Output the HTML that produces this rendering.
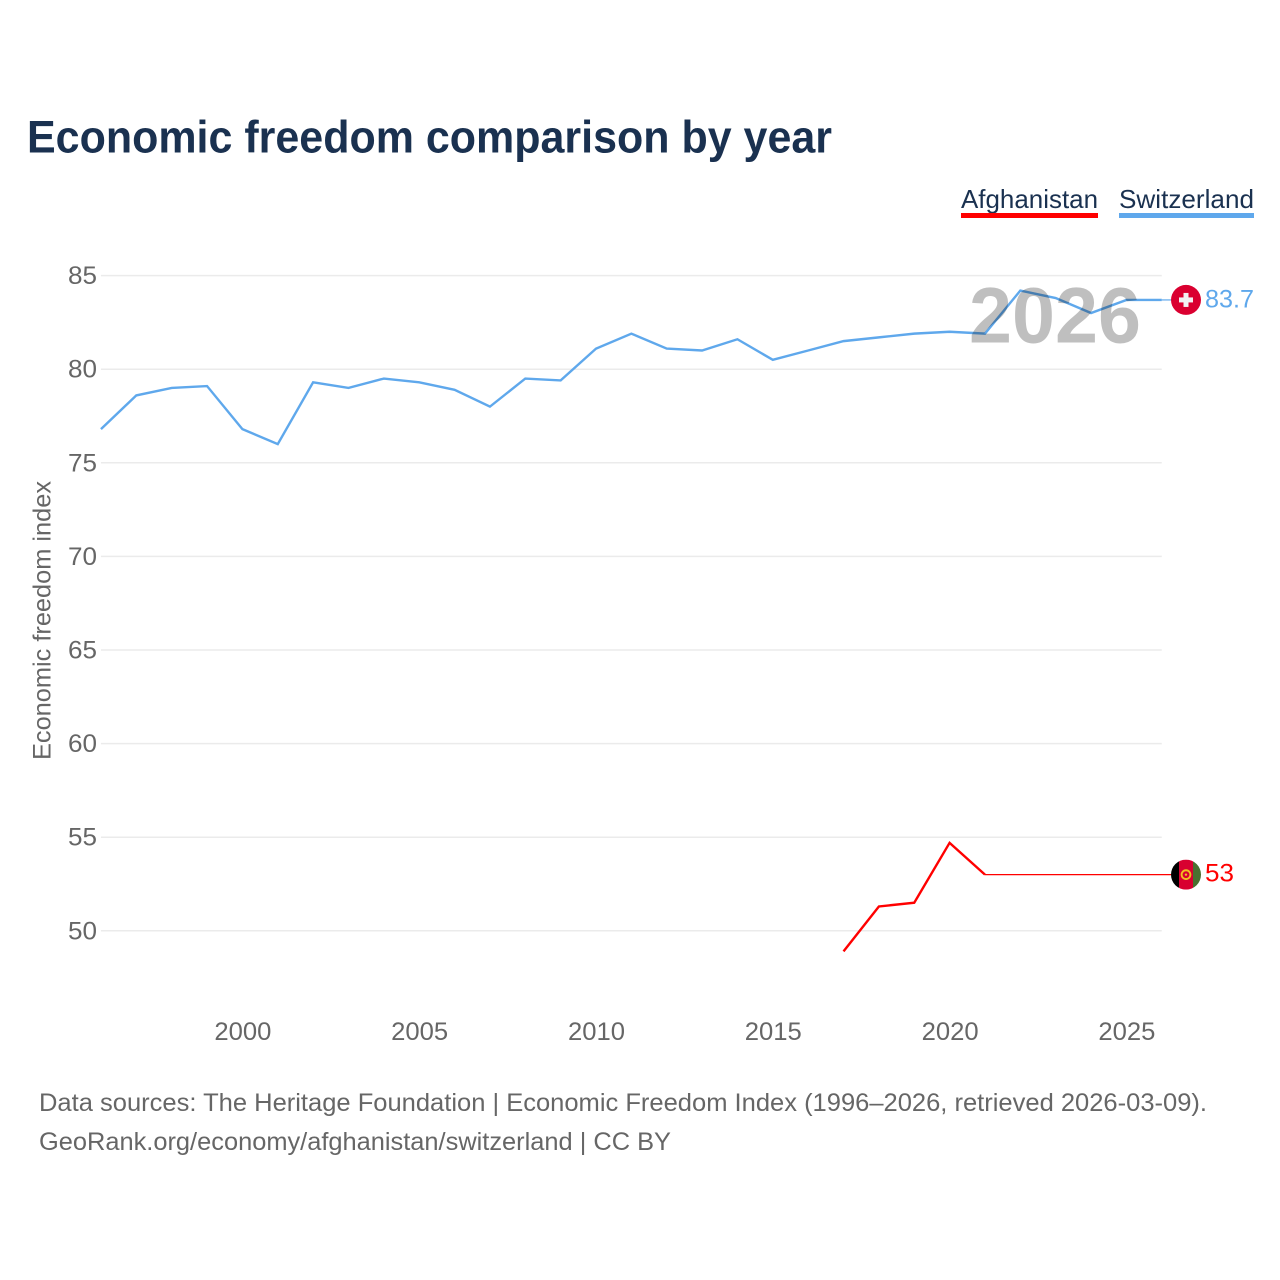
<!DOCTYPE html>
<html lang="en">
<head>
<meta charset="utf-8">
<title>Economic freedom comparison by year</title>
<style>
html,body{margin:0;padding:0;background:#fff;width:1280px;height:1280px;overflow:hidden}
svg{display:block;font-family:"Liberation Sans",sans-serif}
</style>
</head>
<body>
<svg id="chart" width="1280" height="1280" viewBox="0 0 1280 1280" xmlns="http://www.w3.org/2000/svg">
  <defs>
    <clipPath id="flag-clip-af"><circle cx="0" cy="0" r="15"/></clipPath>
  </defs>
  <rect width="1280" height="1280" fill="#fff"/>
  <text x="27" y="152.5" font-size="45" font-weight="700" fill="#1a3150" textLength="805" lengthAdjust="spacingAndGlyphs">Economic freedom comparison by year</text>

  <g>
    <text x="961" y="208" font-size="26" fill="#1a3150" textLength="137" lengthAdjust="spacingAndGlyphs">Afghanistan</text>
    <rect x="961" y="213" width="137" height="5" fill="#ff0000"/>
  </g>
  <g>
    <text x="1119" y="208" font-size="26" fill="#1a3150" textLength="135" lengthAdjust="spacingAndGlyphs">Switzerland</text>
    <rect x="1119" y="213" width="135" height="5" fill="#5fa8ec"/>
  </g>

  <g id="grid"></g>
  <g id="y-ticks"></g>
  <g id="x-ticks"></g>
  <text transform="translate(50.5 620.5) rotate(-90)" text-anchor="middle" font-size="25" fill="#666" textLength="279" lengthAdjust="spacingAndGlyphs">Economic freedom index</text>

  <g id="series"></g>

  <text x="969" y="342.5" font-size="79" font-weight="700" fill="#000" fill-opacity="0.25" textLength="172" lengthAdjust="spacingAndGlyphs">2026</text>

  <g id="markers"></g>

  <text x="39" y="1111" font-size="25" fill="#666" textLength="1168" lengthAdjust="spacingAndGlyphs">Data sources: The Heritage Foundation | Economic Freedom Index (1996–2026, retrieved 2026-03-09).</text>
  <text x="39" y="1150" font-size="25" fill="#666" textLength="632" lengthAdjust="spacingAndGlyphs">GeoRank.org/economy/afghanistan/switzerland | CC BY</text>
</svg>
<script>
const yTickValues = [50, 55, 60, 65, 70, 75, 80, 85];
const xTickYears = [2000, 2005, 2010, 2015, 2020, 2025];
const switzerlandYears = [1996, 1997, 1998, 1999, 2000, 2001, 2002, 2003, 2004, 2005, 2006, 2007, 2008, 2009, 2010, 2011, 2012, 2013, 2014, 2015, 2016, 2017, 2018, 2019, 2020, 2021, 2022, 2023, 2024, 2025, 2026];
const switzerlandValues = [76.8, 78.6, 79.0, 79.1, 76.8, 76.0, 79.3, 79.0, 79.5, 79.3, 78.9, 78.0, 79.5, 79.4, 81.1, 81.9, 81.1, 81.0, 81.6, 80.5, 81.0, 81.5, 81.7, 81.9, 82.0, 81.9, 84.2, 83.8, 83.0, 83.7, 83.7];
const afghanistanYears = [2017, 2018, 2019, 2020, 2021];
const afghanistanValues = [48.9, 51.3, 51.5, 54.7, 53.0];

const NS = 'http://www.w3.org/2000/svg';
const xScale = year => 242.4 + (year - 2000) * 35.36;
const yScale = value => 930.8 - (value - 50) * 18.72;
const make = (parent, tag, attrs, text) => {
  const el = document.createElementNS(NS, tag);
  Object.keys(attrs).forEach(k => el.setAttribute(k, attrs[k]));
  if (text !== undefined) el.textContent = text;
  parent.appendChild(el);
  return el;
};
const gridG = document.getElementById('grid');
const yTicksG = document.getElementById('y-ticks');
const xTicksG = document.getElementById('x-ticks');
const seriesG = document.getElementById('series');
const markersG = document.getElementById('markers');

yTickValues.forEach(v => {
  const line = make(gridG, 'line', {x1: xScale(1996), x2: xScale(2026), y1: yScale(v), y2: yScale(v), stroke: '#ebebeb', 'stroke-width': 1.5});
  
  
  const label = make(yTicksG, 'text', {x: 97, y: yScale(v) + 8.5, 'text-anchor': 'end', 'font-size': 25, fill: '#666', textLength: 29, lengthAdjust: 'spacingAndGlyphs'}, String(v));
  
  
});

xTickYears.forEach(y => {
  const label = make(xTicksG, 'text', {x: xScale(y) + 0.5, y: 1040, 'text-anchor': 'middle', 'font-size': 25, fill: '#666', textLength: 57, lengthAdjust: 'spacingAndGlyphs'}, String(y));
  
  
});

const linePoints = (years, values) => years.map((y, i) => xScale(y).toFixed(2) + ',' + yScale(values[i]).toFixed(2)).join(' ');

const swissLine = make(seriesG, 'polyline', {points: linePoints(switzerlandYears, switzerlandValues), fill: 'none', stroke: '#5fa8ec', 'stroke-width': 2.4, 'stroke-linejoin': 'miter'});



const afghanLine = make(seriesG, 'polyline', {points: linePoints(afghanistanYears, afghanistanValues), fill: 'none', stroke: '#ff0000', 'stroke-width': 2.4, 'stroke-linejoin': 'miter'});



const swissLastYear = switzerlandYears[switzerlandYears.length - 1];
const swissLast = switzerlandValues[switzerlandValues.length - 1];
const afghanLastYear = afghanistanYears[afghanistanYears.length - 1];
const afghanLast = afghanistanValues[afghanistanValues.length - 1];

const swissConnector = make(seriesG, 'line', {x1: xScale(swissLastYear), x2: 1171, y1: yScale(swissLast), y2: yScale(swissLast), stroke: '#5fa8ec', 'stroke-width': 1.2});



const afghanConnector = make(seriesG, 'line', {x1: xScale(afghanLastYear), x2: 1171, y1: yScale(afghanLast), y2: yScale(afghanLast), stroke: '#ff0000', 'stroke-width': 1.2});



// Switzerland flag marker
const swissFlag = make(markersG, 'g', {transform: 'translate(1186 ' + yScale(swissLast) + ')'});


make(swissFlag, 'circle', {r: 15, fill: '#da0030'});
make(swissFlag, 'rect', {x: -2.5, y: -7, width: 5, height: 14, fill: '#f2f2f2'});
make(swissFlag, 'rect', {x: -7, y: -2.5, width: 14, height: 5, fill: '#f2f2f2'});

const swissValue = make(markersG, 'text', {x: 1205, y: yScale(swissLast) + 7.5, 'font-size': 25, fill: '#5fa8ec', textLength: 49, lengthAdjust: 'spacingAndGlyphs'}, String(swissLast));



// Afghanistan flag marker
const afghanFlag = make(markersG, 'g', {transform: 'translate(1186 ' + yScale(afghanLast) + ')'});


const afghanClip = make(afghanFlag, 'g', {'clip-path': 'url(#flag-clip-af)'});
make(afghanClip, 'rect', {x: -15, y: -15, width: 8, height: 30, fill: '#000'});
make(afghanClip, 'rect', {x: -7, y: -15, width: 14, height: 30, fill: '#d80030'});
make(afghanClip, 'rect', {x: 7, y: -15, width: 8, height: 30, fill: '#4a7030'});
make(afghanFlag, 'circle', {r: 4.4, fill: 'none', stroke: '#f0c020', 'stroke-width': 1.9});
make(afghanFlag, 'circle', {r: 1.2, fill: '#f0c020'});

const afghanValue = make(markersG, 'text', {x: 1205, y: yScale(afghanLast) + 7, 'font-size': 25, fill: '#ff0000', textLength: 29, lengthAdjust: 'spacingAndGlyphs'}, String(afghanLast));


</script>
</body>
</html>
